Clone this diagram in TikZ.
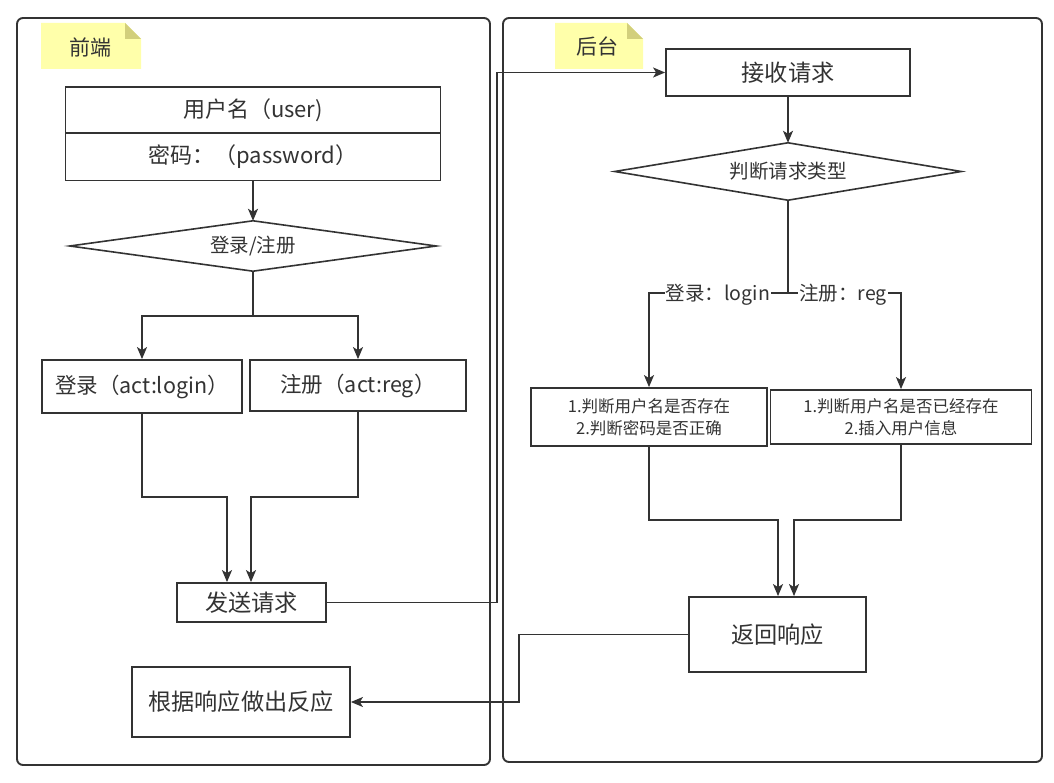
\documentclass[tikz,border=0pt]{standalone}
\usepackage{fontspec}
\setmainfont{Noto Sans CJK SC}
\usetikzlibrary{arrows.meta,shapes.geometric}
\definecolor{ink}{HTML}{333333}
\definecolor{notefill}{HTML}{FFFFAA}
\definecolor{notefold}{HTML}{D2CF7C}
\begin{document}
\begin{tikzpicture}[x=1pt,y=-1pt,
  box/.style={draw=ink, line width=1.8pt, fill=white, inner sep=0pt, text=ink, align=center},
  dia/.style={inner sep=0pt, text=ink},
  dialine/.style={draw=ink, line width=1.6pt, line join=miter},
  arr/.style={draw=ink, line width=1.6pt, -{Stealth[length=12pt,width=10pt,inset=3pt]}},
  con/.style={draw=ink, line width=1.6pt},
  frame/.style={draw=ink, line width=1.9pt, rounded corners=6pt, inner sep=0pt},
  lbl/.style={fill=white, text=ink, inner sep=1pt, font=\fontsize{19.5}{22}\selectfont},
  big/.style={font=\fontsize{23.2}{26}\selectfont},
  mid/.style={font=\fontsize{22}{24}\selectfont},
  sml/.style={font=\fontsize{16.5}{22}\selectfont},
  notetxt/.style={text=ink, inner sep=0pt, font=\fontsize{21}{24}\selectfont}
]
\useasboundingbox (0,0) rectangle (1054,783);

% containers
\node[frame, minimum width=473, minimum height=747] (fe) at (253.5,391.5) {};
\node[frame, minimum width=539, minimum height=744] (be) at (772.5,390) {};

% notes
\fill[notefill] (41,23) -- (125,23) -- (141,39) -- (141,69) -- (41,69) -- cycle;
\fill[notefold] (125,23) -- (141,39) -- (125,39) -- cycle;
\node[notetxt] (n1) at (90,47) {前端};
\fill[notefill] (555,23) -- (627,23) -- (643,39) -- (643,69) -- (555,69) -- cycle;
\fill[notefold] (627,23) -- (643,39) -- (627,39) -- cycle;
\node[notetxt] (n2) at (597,47) {后台};

% front-end nodes
\node[box, mid, minimum width=375, minimum height=46] (user) at (253,110) {用户名（user)};
\node[box, mid, minimum width=375, minimum height=47] (pwd) at (253,157) {密码：（password）};
\node[dia, font=\fontsize{19.5}{22}\selectfont, minimum width=366, minimum height=50] (d1) at (253,246) {登录/注册};
\draw[dialine] (d1.north) -- (d1.east) -- (d1.south) -- (d1.west) -- cycle;
\node[box, font=\fontsize{21.5}{24}\selectfont, minimum width=200, minimum height=53] (b1) at (142,386.5) {登录（act:login）};
\node[box, font=\fontsize{21.5}{24}\selectfont, minimum width=216, minimum height=51] (b2) at (358,385.5) {注册（act:reg）};
\node[box, big, minimum width=149, minimum height=39] (s) at (251.5,602.5) {发送请求};
\node[box, big, minimum width=218, minimum height=70] (r) at (241,702) {根据响应做出反应};

% back-end nodes
\node[box, big, minimum width=244, minimum height=47] (recv) at (788,72.5) {接收请求};
\node[dia, font=\fontsize{19.5}{22}\selectfont, minimum width=346, minimum height=57] (d2) at (788,171.5) {判断请求类型};
\draw[dialine] (d2.north) -- (d2.east) -- (d2.south) -- (d2.west) -- cycle;
\node[box, sml, minimum width=236, minimum height=58] (r1) at (649,417) {1.判断用户名是否存在\\2.判断密码是否正确};
\node[box, sml, minimum width=261, minimum height=54] (r2) at (901,417) {1.判断用户名是否已经存在\\2.插入用户信息};
\node[box, big, minimum width=177, minimum height=75] (ret) at (777.5,634.5) {返回响应};

% front-end connectors
\draw[arr] (pwd.south) -- (d1.north);
\coordinate (a) at (253,316);
\draw[con] (d1.south) -- (a);
\draw[arr] (a) -| (b1.north);
\draw[arr] (a) -| (b2.north);
\coordinate (j1) at (227,497);
\coordinate (j2) at (251,497);
\draw[arr] (b1.south) |- (j1) -- (j1 |- s.north);
\draw[arr] (b2.south) |- (j2) -- (j2 |- s.north);

% request
\coordinate (k) at (497,0);
\draw[arr] (s.east) -- (k |- s.east) -- (k |- recv.west) -- (recv.west);

% back-end connectors
\draw[arr] (recv.south) -- (d2.north);
\coordinate (m) at (788,293);
\draw[con] (d2.south) -- (m);
\draw[arr] (m) -| (r1.north);
\draw[arr] (m) -| (r2.north);
\node[lbl] (ll) at (718,295) {登录：login};
\node[lbl] (lr) at (843,295) {注册：reg};
\coordinate (p1) at (778,520);
\coordinate (p2) at (794,520);
\draw[arr] (r1.south) |- (p1) -- (p1 |- ret.north);
\draw[arr] (r2.south) |- (p2) -- (p2 |- ret.north);

% response
\coordinate (q) at (519,0);
\draw[arr] (ret.west) -- (q |- ret.west) -- (q |- r.east) -- (r.east);
\end{tikzpicture}
\end{document}
